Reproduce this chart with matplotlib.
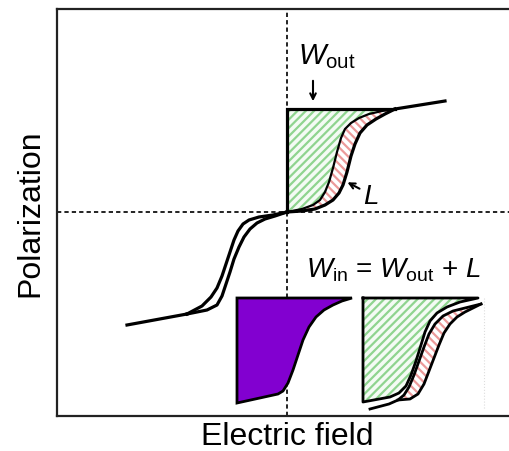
import matplotlib
matplotlib.use("Agg")
from matplotlib import pyplot as plt
import numpy as np

plt.rcParams['font.family'] = ['Liberation Sans', 'DejaVu Sans']
plt.rcParams['mathtext.fontset'] = 'custom'
plt.rcParams['mathtext.rm'] = 'Liberation Sans'
plt.rcParams['mathtext.it'] = 'Liberation Sans:italic'
plt.rcParams['hatch.linewidth'] = 1.6

# schematic P-E loop (origin at the dashed cross)
up_left_E = [0, 15, 26, 33, 38, 42, 46, 50, 54, 58, 64, 72, 82, 95, 108]
up_left_P = [0, 3, 7, 12, 20, 30, 44, 60, 74, 83, 89, 94, 98, 101, 103]
up_right_E = [0, 15, 28, 38, 46, 52, 56, 60, 64, 68, 73, 80, 89, 98, 108]
up_right_P = [0, 1, 3, 7, 12, 19, 27, 40, 56, 68, 79, 87, 93, 98, 103]
tail_up_E = [108, 158]
tail_up_P = [103, 111]

low_left_E = [-100, -85, -76, -70, -65, -61, -57, -53, -49, -44, -38, -28, -14, 0]
low_left_P = [-102, -94, -85, -76, -64, -52, -40, -28, -19, -12, -8, -5, -3, 0]
low_right_E = [-100, -80, -70, -65, -61, -57, -53, -48, -43, -37, -30, -22, -12, 0]
low_right_P = [-102, -98, -93, -84, -72, -60, -47, -35, -25, -17, -11, -7, -4, 0]
tail_low_E = [-160, -100]
tail_low_P = [-113, -102]

w_top = 103  # saturation level of the W_out box

# inset 1 : W_in (purple)
win_E = [-50, 65, 55, 46, 37, 29, 22, 16, 11, 6, 1, -4, -9, -50]
win_P = [-86, -86, -89, -93, -98, -105, -115, -128, -143, -158, -171, -179, -182, -191]

# inset 2 : W_out + L
wout_E = [76, 191, 173, 160, 150, 143, 138, 134, 129, 124, 119, 112, 103, 76]
wout_P = [-86, -86, -90, -95, -101, -109, -120, -133, -149, -163, -174, -181, -185, -190]
loopB_E = [83, 102, 111, 117, 122, 127, 132, 137, 142, 148, 156, 166, 178, 194]
loopB_P = [-197, -192, -188, -183, -175, -163, -149, -135, -122, -112, -104, -99, -96, -92]
loopC_E = [111, 123, 131, 137, 142, 147, 152, 157, 163, 170, 178, 186, 194]
loopC_P = [-188, -187, -182, -172, -159, -146, -133, -121, -112, -105, -100, -96, -92]

green = '#8fd48f'
pink = '#ec9a9a'
purple = '#8200d0'
lw = 2.3

fig = plt.figure(figsize=(5.10, 4.52), dpi=100)
ax = fig.add_axes([57 / 510, 35 / 452, 453 / 510, 407 / 452])
ax.set_xlim(-230, 223)
ax.set_ylim(-204, 203)
ax.set_xticks([])
ax.set_yticks([])
ax.spines['right'].set_visible(False)
for s in ['left', 'top', 'bottom']:
    ax.spines[s].set_linewidth(1.6)
    ax.spines[s].set_color('#222222')

# dashed axes through origin
ax.axhline(0, color='#222222', lw=1.4, ls=(0, (2.2, 1.6)), zorder=1)
ax.axvline(0, color='#222222', lw=1.4, ls=(0, (2.2, 1.6)), zorder=1)

# W_out region (green hatch)
gx = np.concatenate([[0, 0], up_left_E[::-1]])
gy = np.concatenate([[0, w_top], up_left_P[::-1]])
ax.fill(gx, gy, facecolor='#f4fbf4', edgecolor=green, hatch='////', lw=0, zorder=2)

# loss L (pink hatch)
px = np.concatenate([up_left_E, up_right_E[::-1]])
py = np.concatenate([up_left_P, up_right_P[::-1]])
ax.fill(px, py, facecolor='white', edgecolor=pink, hatch='\\\\\\\\', lw=0, zorder=2)

ax.plot([0, 0, up_left_E[-1]], [0, w_top, w_top], color='black', lw=lw, zorder=4,
        solid_joinstyle='miter')
ax.plot(up_left_E, up_left_P, color='black', lw=1.6, zorder=4)
ax.plot(up_right_E, up_right_P, color='black', lw=lw, zorder=4)
ax.plot(tail_up_E, tail_up_P, color='black', lw=lw, zorder=4)
ax.plot(low_left_E, low_left_P, color='black', lw=lw, zorder=4)
ax.plot(low_right_E, low_right_P, color='black', lw=lw, zorder=4)
ax.plot(tail_low_E, tail_low_P, color='black', lw=lw, zorder=4)

# inset W_in
ax.fill(win_E, win_P, facecolor=purple, edgecolor='black', lw=2, zorder=5,
        joinstyle='miter')

# inset W_out + L
ax.fill(wout_E, wout_P, facecolor='#f4fbf4', edgecolor=green, hatch='////', lw=0, zorder=5)
ax.plot(wout_E + [wout_E[0]], wout_P + [wout_P[0]], color='black', lw=2, zorder=6)
lx = np.concatenate([loopB_E[2:], loopC_E[::-1]])
ly = np.concatenate([loopB_P[2:], loopC_P[::-1]])
ax.fill(lx, ly, facecolor='white', edgecolor=pink, hatch='\\\\\\\\', lw=0, zorder=5)
ax.plot(loopB_E, loopB_P, color='black', lw=2, zorder=6)
ax.plot(loopC_E, loopC_P, color='black', lw=2, zorder=6)
ax.plot([197, 197], [-86, -197], color='#dddddd', lw=0.8, ls=':', zorder=3)

# annotations
ax.text(11, 156, r'$W_{\mathrm{out}}$', fontsize=21, ha='left', va='center')
ax.annotate('', xy=(26, 108), xytext=(26, 134),
            arrowprops=dict(arrowstyle='->', color='black', lw=1.5))
ax.text(76, 16, r'$L$', fontsize=20, ha='left', va='center')
ax.annotate('', xy=(58, 31), xytext=(75, 22),
            arrowprops=dict(arrowstyle='->', color='black', lw=1.5))
ax.text(106, -57, r'$W_{\mathrm{in}}$ = $W_{\mathrm{out}}$ + $L$', fontsize=20,
        ha='center', va='center')

fig.text(30 / 510, 1 - 213 / 452, 'Polarization', rotation=90, fontsize=23,
         ha='center', va='center')
fig.text(287 / 510, 1 - 437 / 452, 'Electric field', fontsize=23,
         ha='center', va='center')

fig.savefig('out.png', dpi=100)
